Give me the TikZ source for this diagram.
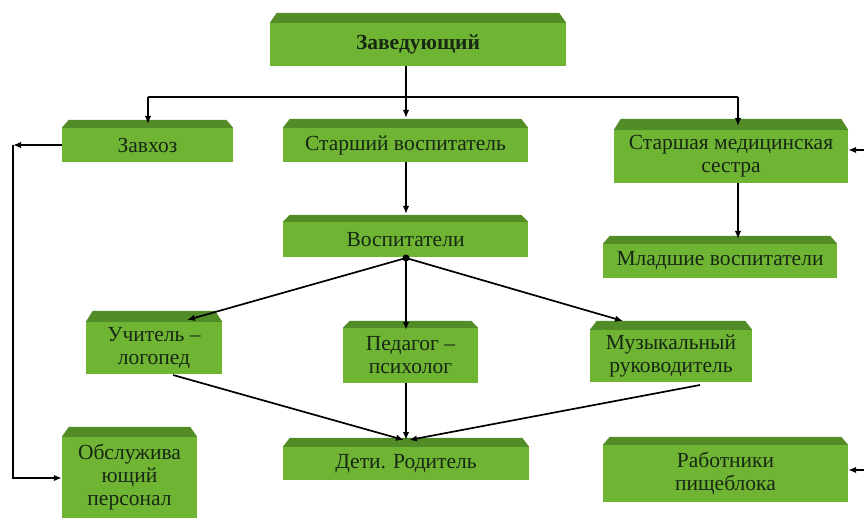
\documentclass[tikz,border=0pt]{standalone}
\usepackage{fontspec}
\setmainfont{Liberation Serif}
\usetikzlibrary{arrows.meta}

\definecolor{frontgreen}{RGB}{112,180,52}
\definecolor{topgreen}{RGB}{82,140,38}
\definecolor{textgreen}{RGB}{22,40,20}

\tikzset{
	blok/.style = {fill = frontgreen, text = textgreen, align = center, inner sep = 0pt,
		font = \fontsize{21.5}{23}\selectfont},
	line/.style = {black, line width = 1.7pt},
	>={Latex[length = 8pt, width = 6.5pt]}
}

\begin{document}
\begin{tikzpicture}[x = 1pt, y = -1pt]
					\useasboundingbox (0, 0) rectangle (864, 518);
					% boxes (front face)
					\node (zav) at (418, 44.5) [blok, minimum width = 296pt, minimum height = 43pt] {\textbf{Заведующий}};
					\node (zavhoz) at (147.5, 145) [blok, minimum width = 171pt, minimum height = 34pt] {Завхоз};
					\node (starvos) at (405.5, 145) [blok, minimum width = 245pt, minimum height = 34pt] {Старший воспитатель};
					\node (medsestra) at (731, 156.5) [blok, minimum width = 234pt, minimum height = 53pt] {Старшая медицинская\\сестра};
					\node (mlvos) at (720, 261) [blok, minimum width = 234pt, minimum height = 34pt] {Младшие воспитатели};
					\node (vospit) at (405.5, 239.5) [blok, minimum width = 245pt, minimum height = 35pt] {Воспитатели};
					\node (logoped) at (154, 348) [blok, minimum width = 136pt, minimum height = 52pt] {Учитель –\\логопед};
					\node (psiholog) at (410.5, 355.5) [blok, minimum width = 135pt, minimum height = 55pt] {Педагог –\\психолог};
					\node (muz) at (671, 356) [blok, minimum width = 162pt, minimum height = 52pt] {Музыкальный\\руководитель};
					\node (deti) at (406, 463.5) [blok, minimum width = 246pt, minimum height = 33pt] {Дети. Родитель};
					\node (obsl) at (129.5, 477.5) [blok, minimum width = 135pt, minimum height = 81pt] {Обслужива\\ющий\\персонал};
					\node (pishe) at (725.5, 473.5) [blok, minimum width = 245pt, minimum height = 57pt] {Работники\\пищеблока};
					% top faces
					\foreach \n / \d in {zav/10, zavhoz/8, starvos/9, medsestra/11, mlvos/8, vospit/7, logoped/11, psiholog/7, muz/9, deti/9, obsl/10, pishe/8}
						\fill [topgreen] (\n.north west) -- ([xshift = 7pt, yshift = \d pt]\n.north west) -- ([xshift = -7pt, yshift = \d pt]\n.north east) -- (\n.north east) -- cycle;
					% connectors
					\coordinate (bus) at (406, 97);
					\coordinate (busL) at (148, 97);
					\coordinate (busR) at (738, 97);
					\coordinate (hub) at (406, 258);
					\coordinate (leftT) at (13, 145);
					\coordinate (leftB) at (13, 478);
					\coordinate (rightT) at (864, 150);
					\coordinate (rightB) at (864, 470);
					\draw [line] (406, 66) -- (bus);
					\draw [line] (busL) -- (busR);
					\draw [line, ->] (busL) -- (148, 124);
					\draw [line, ->] (bus) -- (406, 118);
					\draw [line, ->] (busR) -- (738, 126);
					\draw [line, ->] (406, 162) -- (406, 214);
					\draw [line, ->] (738, 183) -- (738, 239);
					\draw [line, ->] (hub) -- (187, 320);
					\draw [line, ->] (hub) -- (406, 330);
					\draw [line, ->] (hub) -- (623, 321);
					\fill [black] (hub) circle (3.5pt);
					\draw [line, ->] (173, 375) -- (404, 440);
					\draw [line, ->] (406, 383) -- (406, 440);
					\draw [line, ->] (700, 385) -- (409, 440);
					\draw [line, ->] (zavhoz.west) -- (leftT);
					\draw [line, ->] (leftT) -- (leftB) -- (obsl.west |- leftB);
					\draw [line, ->] (rightT) -- (medsestra.east |- rightT);
					\draw [line, ->] (rightB) -- (pishe.east |- rightB);
				\end{tikzpicture}
\end{document}
